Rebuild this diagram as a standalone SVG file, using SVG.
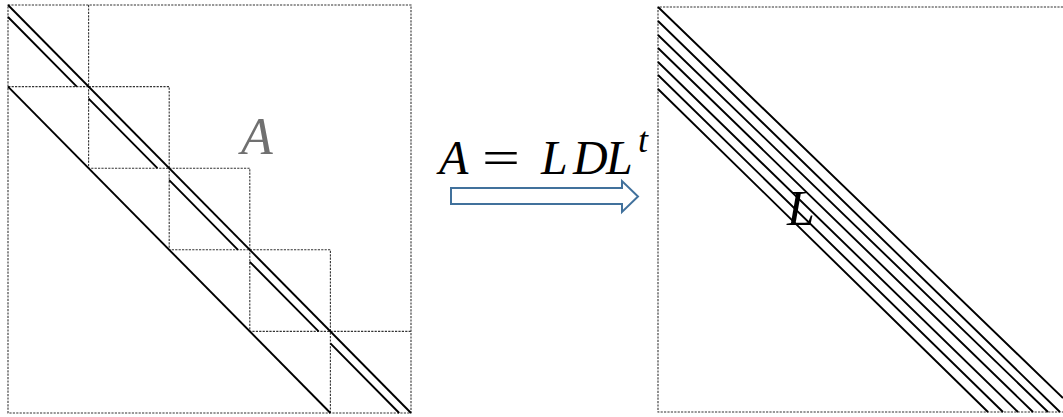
<svg xmlns="http://www.w3.org/2000/svg" width="1063" height="417" viewBox="0 0 1063 417">
<style>
.dash{fill:none;stroke:#333;stroke-width:1.1;stroke-dasharray:2.2 1.2}
.ln{stroke:#000;stroke-width:1.9;fill:none}
.math{font-family:"Liberation Serif","DejaVu Serif",serif;font-style:italic}
</style>
<rect width="1063" height="417" fill="#fff"/>
<g id="matrixA">
<rect class="dash" x="8" y="5" width="403" height="408"/>
<path class="dash" d="M88.6,5 V86.6 H8"/>
<rect class="dash" x="88.6" y="86.6" width="80.6" height="81.6"/>
<rect class="dash" x="169.2" y="168.2" width="80.6" height="81.6"/>
<rect class="dash" x="249.8" y="249.8" width="80.6" height="81.6"/>
<path class="dash" d="M330.4,413 V331.4 H411"/>
<path class="ln" d="M8,5 L411,413"/>
<path class="ln" d="M8,17 L76.8,86.6 M88.6,98.6 L157.4,168.2 M169.2,180.2 L238,249.8 M249.8,261.8 L318.6,331.4 M330.4,343.4 L399.2,413"/>
<path class="ln" d="M8,86.6 L330.4,413"/>
<text class="math" x="241" y="154" font-size="52" fill="#707070">A</text>
</g>
<g id="equation">
<text class="math" x="439" y="174" font-size="48" fill="#000">A</text>
<text x="482" y="174" font-size="48" fill="#000" font-family="Liberation Serif, serif" textLength="38" lengthAdjust="spacingAndGlyphs">=</text>
<text class="math" y="174" font-size="48" fill="#000"><tspan x="541">L</tspan><tspan x="573">D</tspan><tspan x="606">L</tspan></text>
<text class="math" x="638" y="152" font-size="36" fill="#000">t</text>
</g>
<g id="connectors">
<path d="M451,188 H622 V181 L638,196.5 L622,212 V204 H451 Z" fill="#fff" stroke="#41719C" stroke-width="2" stroke-linejoin="miter"/>
</g>
<g id="matrixL">
<path class="dash" d="M1063,7 H658 V412 H1063"/>
<path class="ln" d="M658,7 L1063,398 M658,21 L1060,412 M658,35 L1048,412 M658,48 L1033,412 M658,62 L1018,412 M658,75 L1003,412 M658,89 L988,412"/>
<text class="math" x="787" y="225" font-size="50" fill="#000">L</text>
</g>
</svg>
